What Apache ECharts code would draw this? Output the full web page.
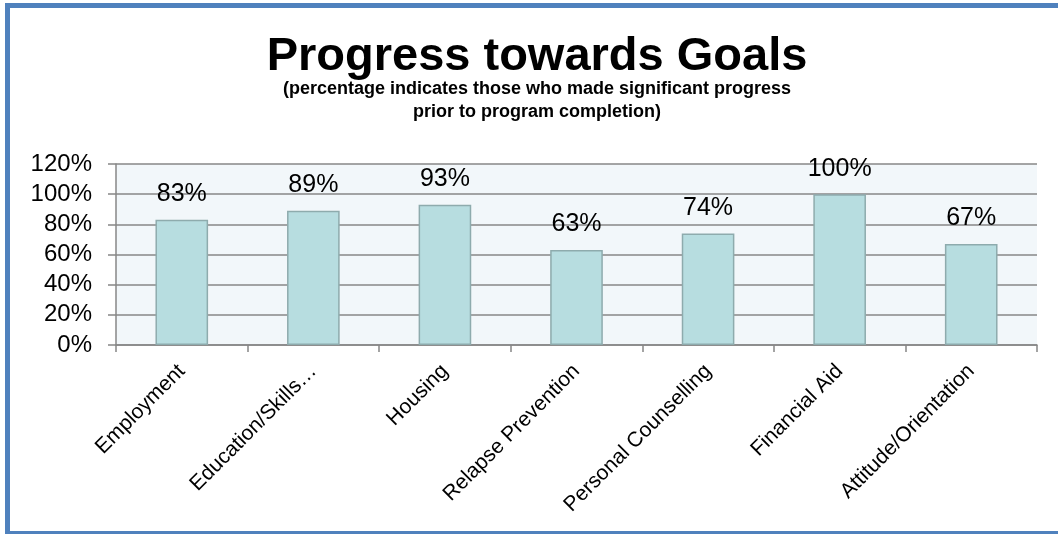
<!DOCTYPE html>
<html>
<head>
<meta charset="utf-8">
<script src="https://cdn.jsdelivr.net/npm/echarts@6/dist/echarts.min.js"></script>
<style>
  html, body { margin: 0; padding: 0; background: #ffffff; }
  #chart { position: absolute; left: 0; top: 0; width: 1058px; height: 534px; }
  #frame {
    position: absolute; left: 5px; top: 3px; width: 1100px; height: 523px;
    border-left: 5px solid #4f81bd; border-top: 5px solid #4f81bd; border-bottom: 3px solid #4f81bd;
    pointer-events: none;
  }
</style>
</head>
<body>
<div id="chart"></div>
<div id="frame"></div>
<script>
// Goal areas and share of participants with significant progress (%)
const categories = ['Employment', 'Education/Skills\u2026', 'Housing', 'Relapse Prevention',
  'Personal Counselling', 'Financial Aid', 'Attitude/Orientation'];
const progress = [83, 89, 93, 63, 74, 100, 67];
const titleText = 'Progress towards Goals';
const subtitleText = '(percentage indicates those who made significant progress\nprior to program completion)';

const font = 'Liberation Sans, Arial, sans-serif';
const gridColor = '#878787';

const chart = echarts.init(document.getElementById('chart'), null, { renderer: 'canvas' });
chart.setOption({
  animation: false,
  backgroundColor: '#ffffff',
  title: [
    {
      text: titleText, left: 537, top: 35, textAlign: 'center', padding: 0,
      textStyle: { fontFamily: font, fontSize: 47, fontWeight: 'bold', color: '#000', lineHeight: 44 }
    },
    {
      text: subtitleText, left: 537, top: 78, textAlign: 'center', padding: 0,
      textStyle: { fontFamily: font, fontSize: 18, fontWeight: 'bold', color: '#000', lineHeight: 22.7 }
    }
  ],
  grid: {
    left: 116, right: 21, top: 164, bottom: 189,
    show: true, backgroundColor: '#f2f7fa', borderWidth: 0
  },
  xAxis: {
    type: 'category',
    data: categories,
    axisLine: { show: true, lineStyle: { color: gridColor, width: 1.5 } },
    axisTick: { show: true, length: 7, lineStyle: { color: gridColor, width: 1.5 } },
    axisLabel: { rotate: 45, margin: 23, fontFamily: font, fontSize: 21, color: '#000', interval: 0 },
    splitLine: { show: false }
  },
  yAxis: {
    type: 'value',
    min: 0, max: 120, interval: 20,
    axisLine: { show: true, lineStyle: { color: gridColor, width: 1.5 } },
    axisTick: { show: true, length: 8, lineStyle: { color: gridColor, width: 1.5 } },
    axisLabel: { formatter: '{value}%', margin: 24, fontFamily: font, fontSize: 24, color: '#000' },
    splitLine: { show: true, lineStyle: { color: gridColor, width: 1.5 } }
  },
  series: [{
    type: 'bar',
    data: progress,
    barWidth: '40%',
    itemStyle: { color: '#b7dde0', borderColor: '#8eabad', borderWidth: 1.5 },
    label: {
      show: true, position: 'top', distance: 13, formatter: '{c}%',
      fontFamily: font, fontSize: 25, color: '#000'
    }
  }]
});
</script>
</body>
</html>
